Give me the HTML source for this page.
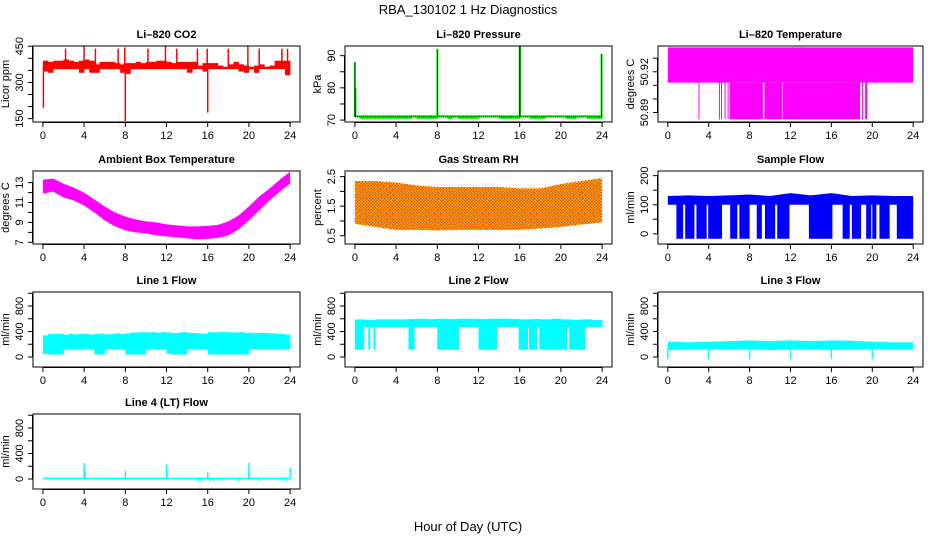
<!DOCTYPE html>
<html><head><meta charset="utf-8"><style>
body{margin:0;background:#fff}
svg{display:block;font-family:"Liberation Sans",Arial,sans-serif}
</style></head><body>
<svg id="c" width="936" height="540" viewBox="0 0 936 540">
<defs><pattern id="rhpat" width="3" height="3" patternUnits="userSpaceOnUse"><rect width="3" height="3" fill="#ffd800"/><rect width="1.5" height="1.5" fill="#ff2a00"/><rect x="1.5" y="1.5" width="1.5" height="1.5" fill="#ff2a00"/></pattern></defs>
<text x="468" y="14" text-anchor="middle" font-size="13">RBA_130102  1 Hz Diagnostics</text>
<text x="468" y="531" text-anchor="middle" font-size="13">Hour of Day (UTC)</text>
</svg>
<script>
// ---- data ----
const xTicks=[0,4,8,12,16,20,24];
const halfHours=[0,0.5,1,1.5,2,2.5,3,3.5,4,4.5,5,5.5,6,6.5,7,7.5,8,8.5,9,9.5,10,10.5,11,11.5,12,12.5,13,13.5,14,14.5,15,15.5,16,16.5,17,17.5,18,18.5,19,19.5,20,20.5,21,21.5,22,22.5,23,23.5];
const co2Hi=[390,385,390,390,395,390,385,390,395,390,375,385,385,385,380,375,380,380,385,380,385,385,390,390,385,380,385,385,385,385,370,380,380,380,370,365,375,385,375,370,365,370,375,365,370,390,390,390];
const co2Lo=[345,340,355,355,355,355,355,340,355,340,340,355,355,355,355,340,335,355,355,355,355,355,355,355,355,355,355,355,340,355,355,345,355,355,355,355,355,355,345,340,355,340,355,355,355,355,355,330];
const co2SpikeT=[0.05,2.2,4.0,5.1,7.3,7.95,8.0,10.2,11.9,13.0,15.0,15.95,16.0,18.0,19.9,21.0,23.2,23.75];
const co2SpikeV=[195,440,450,440,440,445,140,440,450,440,440,440,175,440,450,440,440,440];
const pressHi=[71.5,71.5,71.5,71.5,71.5,71.5,71.5,71.5,71.5,71.5,71.5,71.5,71.5,71.5,71.5,71.5,71.5,71.5,71.5,71.5,71.5,71.5,71.5,71.5,71.5,71.5,71.5,71.5,71.5,71.5,71.5,71.5,71.5,71.5,71.5,71.5,71.5,71.5,71.5,71.5,71.5,71.5,71.5,71.5,71.5,71.5,71.5,71.5];
const pressLo=[70.9,70.4,70.4,70.4,70.4,70.4,70.4,70.4,70.4,70.4,70.4,70.9,70.4,70.4,70.4,70.4,70.9,70.9,70.4,70.9,70.4,70.4,70.4,70.4,70.9,70.9,70.9,70.9,70.4,70.4,70.4,70.4,70.9,70.9,70.4,70.4,70.4,70.9,70.9,70.9,70.9,70.4,70.4,70.9,70.9,70.4,70.4,70.4];
const pressSpikeT=[0.0,0.05,8.0,16.0,16.03,23.95];
const pressSpikeV=[88,80,92,93,93,90.5];
const tempBandLo=50.912, tempBandHi=50.938, tempDropV=50.885;
const tempDropStart=[3.0,5.0,5.2,5.55,5.85,6.05,9.45,11.25,19.0,19.3];
const tempDropEnd=[3.03,5.05,5.25,5.65,5.9,9.3,11.2,18.8,19.05,19.5];
const hours=[0,1,2,3,4,5,6,7,8,9,10,11,12,13,14,15,16,17,18,19,20,21,22,23,24];
const ambHi=[13.3,13.4,12.9,12.5,12.0,11.3,10.6,10.0,9.6,9.3,9.1,9.0,8.8,8.7,8.6,8.6,8.65,8.75,9.1,9.7,10.6,11.6,12.4,13.3,14.1];
const ambLo=[11.9,12.1,11.5,11.2,10.7,10.0,9.2,8.6,8.2,8.0,7.9,7.7,7.6,7.5,7.4,7.3,7.35,7.45,7.7,8.3,9.2,10.2,11.2,12.1,12.9];
const twoHours=[0,2,4,6,8,10,12,14,16,18,20,22,24];
const rhHi=[2.35,2.35,2.3,2.2,2.15,2.15,2.15,2.15,2.1,2.1,2.25,2.35,2.45];
const rhLo=[0.9,0.8,0.7,0.7,0.68,0.7,0.7,0.7,0.7,0.75,0.8,0.88,0.95];
const sfHi=[130,132,130,132,135,130,140,132,140,130,132,130,130];
const sfLo=[100,100,100,100,100,100,100,100,100,100,100,100,100];
const sfDropV=-17;
const sfDropStart=[0.84,1.7,2.8,3.95,6.1,7.0,8.7,9.5,10.7,13.8,17.1,18.0,19.4,20.0,20.7,22.4];
const sfDropEnd=[1.5,2.6,3.8,5.3,6.8,8.0,9.2,10.5,11.9,16.1,17.8,18.9,19.9,20.4,21.7,24.0];
const l1Hi=[340,360,360,365,350,365,355,360,360,350,360,365,355,360,370,360,370,385,385,390,385,390,380,390,385,375,380,390,380,375,370,365,390,385,390,390,385,385,390,380,380,375,380,375,370,365,360,350];
const l1Lo=[50,40,40,40,120,120,120,120,120,120,40,40,120,120,120,120,40,40,40,40,120,120,120,120,50,40,40,40,120,120,120,120,40,40,40,40,40,40,40,40,120,120,120,120,120,120,120,120];
const l2Hi=[590,585,590,590,590,595,600,595,600,595,600,600,595,600,600,595,590,595,590,600,590,585,590,580];
const l2Lo=[470,470,470,470,470,470,470,470,470,470,470,470,470,470,470,470,470,470,470,470,470,470,470,470];
const l2DropV=115;
const l2DropStart=[0.0,1.3,1.8,5.2,8.0,12.0,15.9,16.9,17.9,20.8];
const l2DropEnd=[0.9,1.5,2.0,5.8,10.1,13.8,16.8,17.7,20.6,22.4];
const l3Hi=[240,230,240,250,260,250,260,250,260,255,240,230,230];
const l3Lo=[110,120,120,120,120,110,120,120,110,120,120,120,120];
const l3DipT=[0.0,4.0,8.0,12.0,16.0,20.0];
const l3DipV=[-30,-30,-30,-30,-30,-30];
const l4Hi=20, l4Lo=-3;
const l4SpikeT=[4.0,4.1,8.0,12.0,12.05,16.0,20.0,20.05,24.0];
const l4SpikeV=[250,130,130,230,140,110,250,130,170];
const l4DipT=[15.1,15.3,16.2,16.5,17.3,19.0,21.0,23.3,23.6];
const l4DipV=[-30,-30,-30,-30,-30,-30,-30,-30,-30];

// ---- layout ----
const NS="http://www.w3.org/2000/svg";
const svg=document.getElementById('c');
const colsX=[[33,300],[345,612],[658,923]];
const rowsY=[[46,122],[171,244],[292,367],[414,489]];
function mk(tag,attrs,parent){const e=document.createElementNS(NS,tag);for(const k in attrs)e.setAttribute(k,attrs[k]);(parent||svg).appendChild(e);return e;}
function panel(col,row,ylo,yhi,ticks,labels,title,ylab,name){
  const [x0,x1]=colsX[col],[y0,y1]=rowsY[row];
  const g=mk('g',{});
  
  
  const X=t=>x0+(t+0.96)/25.92*(x1-x0);
  const Y=v=>y1-(v-ylo)/(yhi-ylo)*(y1-y0);
  const plot=mk('g',{},g);
  
  
  const box=mk('rect',{x:x0,y:y0,width:x1-x0,height:y1-y0,fill:'none',stroke:'#000','stroke-width':1},g);
  
  
  const t=mk('text',{x:(x0+x1)/2,y:y0-8,'text-anchor':'middle','font-size':11,'font-weight':'bold'},g);
  t.textContent=title;
  
  
  // x axis
  const xa=mk('g',{},g);
  
  
  mk('line',{x1:X(0),x2:X(24),y1:y1+0.5,y2:y1+0.5,stroke:'#000'},xa);
  xTicks.forEach(v=>{mk('line',{x1:X(v),x2:X(v),y1:y1,y2:y1+5,stroke:'#000'},xa);
    const l=mk('text',{x:X(v),y:y1+17,'text-anchor':'middle','font-size':11},xa);l.textContent=v;});
  // y axis
  const ya=mk('g',{},g);
  
  
  mk('line',{x1:x0-0.5,x2:x0-0.5,y1:Y(ticks[0]),y2:Y(ticks[ticks.length-1]),stroke:'#000'},ya);
  ticks.forEach(v=>{mk('line',{x1:x0-5,x2:x0,y1:Y(v),y2:Y(v),stroke:'#000'},ya);});
  labels.forEach(v=>{const l=mk('text',{x:0,y:0,'text-anchor':'middle','font-size':11,transform:`translate(${x0-10},${Y(v)}) rotate(-90)`},ya);l.textContent=v;});
  const yl=mk('text',{x:0,y:0,'text-anchor':'middle','font-size':11,transform:`translate(${x0-24},${(y0+y1)/2}) rotate(-90)`},g);
  yl.textContent=ylab;
  
  
  return {X,Y,plot};
}
function bins(P,ts,lo,hi,w,fill){ts.forEach((t,i)=>{const a=P.Y(hi[i]),b=P.Y(lo[i]);mk('rect',{x:P.X(t),y:a,width:P.X(t+w)-P.X(t)+0.3,height:Math.max(1,b-a),fill:fill},P.plot);});}
function spikes(P,ts,vs,base,color,w){ts.forEach((t,i)=>{mk('line',{x1:P.X(t),x2:P.X(t),y1:P.Y(base),y2:P.Y(vs[i]),stroke:color,'stroke-width':w||1},P.plot);});}
function intervals(P,s,e,lo,hi,fill){s.forEach((a,i)=>{const y=P.Y(hi),y2=P.Y(lo);mk('rect',{x:P.X(a),y:y,width:Math.max(1,P.X(e[i])-P.X(a)),height:y2-y,fill:fill},P.plot);});}
function area(P,ts,lo,hi,fill){let d='M'+ts.map((t,i)=>P.X(t)+','+P.Y(hi[i])).join('L');for(let i=ts.length-1;i>=0;i--)d+='L'+P.X(ts[i])+','+P.Y(lo[i]);mk('path',{d:d+'Z',fill:fill},P.plot);}

// CO2
let P=panel(0,0,136,451,[150,200,250,300,350,400,450],[150,300,450],'Li\u2013820 CO2','Licor ppm','co2');
bins(P,halfHours,co2Lo,co2Hi,0.5,'#ff0000');
spikes(P,co2SpikeT,co2SpikeV,365,'#ff0000',1.5);
// Pressure
P=panel(1,0,69.4,93,[70,75,80,85,90],[70,80,90],'Li\u2013820 Pressure','kPa','pressure');
bins(P,halfHours,pressLo,pressHi,0.5,'#00ee00');
spikes(P,pressSpikeT,pressSpikeV,71,'#00ee00',2);
mk('line',{x1:P.X(0),x2:P.X(24),y1:P.Y(71),y2:P.Y(71),stroke:'#000','stroke-dasharray':'1,1'},P.plot);
spikes(P,pressSpikeT,pressSpikeV,71,'#000',0.6);
// Li temp
P=panel(2,0,50.883,50.939,[50.89,50.9,50.91,50.92,50.93],[50.89,50.92],'Li\u2013820 Temperature','degrees C','li-temperature');
mk('rect',{x:P.X(0),y:P.Y(tempBandHi),width:P.X(24)-P.X(0),height:P.Y(tempBandLo)-P.Y(tempBandHi),fill:'#ff00ff'},P.plot);
intervals(P,tempDropStart,tempDropEnd,tempDropV,tempBandLo,'#ff00ff');
// Ambient
P=panel(0,1,6.83,14.17,[7,8,9,10,11,12,13],[7,9,11,13],'Ambient Box Temperature','degrees C','ambient-temperature');
area(P,hours,ambLo,ambHi,'#ff00ff');
// RH
P=panel(1,1,0.22,2.69,[0.5,1,1.5,2,2.5],[0.5,1.5,2.5],'Gas Stream RH','percent','gas-rh');
area(P,twoHours,rhLo,rhHi,'url(#rhpat)');
// Sample flow
P=panel(2,1,-35,216,[0,50,100,150,200],[0,100,200],'Sample Flow','ml/min','sample-flow');
area(P,twoHours,sfLo,sfHi,'#0000ff');
intervals(P,sfDropStart,sfDropEnd,sfDropV,110,'#0000ff');
const lt=[0,200,400,600,800,1000], ll=[0,400,800];
// Line 1
P=panel(0,2,-157,1020,lt,ll,'Line 1 Flow','ml/min','line1-flow');
bins(P,halfHours,l1Lo,l1Hi,0.5,'#00ffff');
// Line 2
P=panel(1,2,-157,1020,lt,ll,'Line 2 Flow','ml/min','line2-flow');
bins(P,hours.slice(0,24),l2Lo,l2Hi,1,'#00ffff');
intervals(P,l2DropStart,l2DropEnd,l2DropV,480,'#00ffff');
// Line 3
P=panel(2,2,-157,1020,lt,ll,'Line 3 Flow','ml/min','line3-flow');
area(P,twoHours,l3Lo,l3Hi,'#00ffff');
spikes(P,l3DipT,l3DipV,120,'#00ffff',1.5);
// Line 4
P=panel(0,3,-157,1020,lt,ll,'Line 4 (LT) Flow','ml/min','line4-flow');
mk('rect',{x:P.X(0),y:P.Y(l4Hi),width:P.X(24)-P.X(0),height:P.Y(l4Lo)-P.Y(l4Hi),fill:'#00ffff'},P.plot);
spikes(P,l4SpikeT,l4SpikeV,0,'#00ffff',1.5);
spikes(P,l4DipT,l4DipV,0,'#00ffff',1.5);
</script>
</body></html>
